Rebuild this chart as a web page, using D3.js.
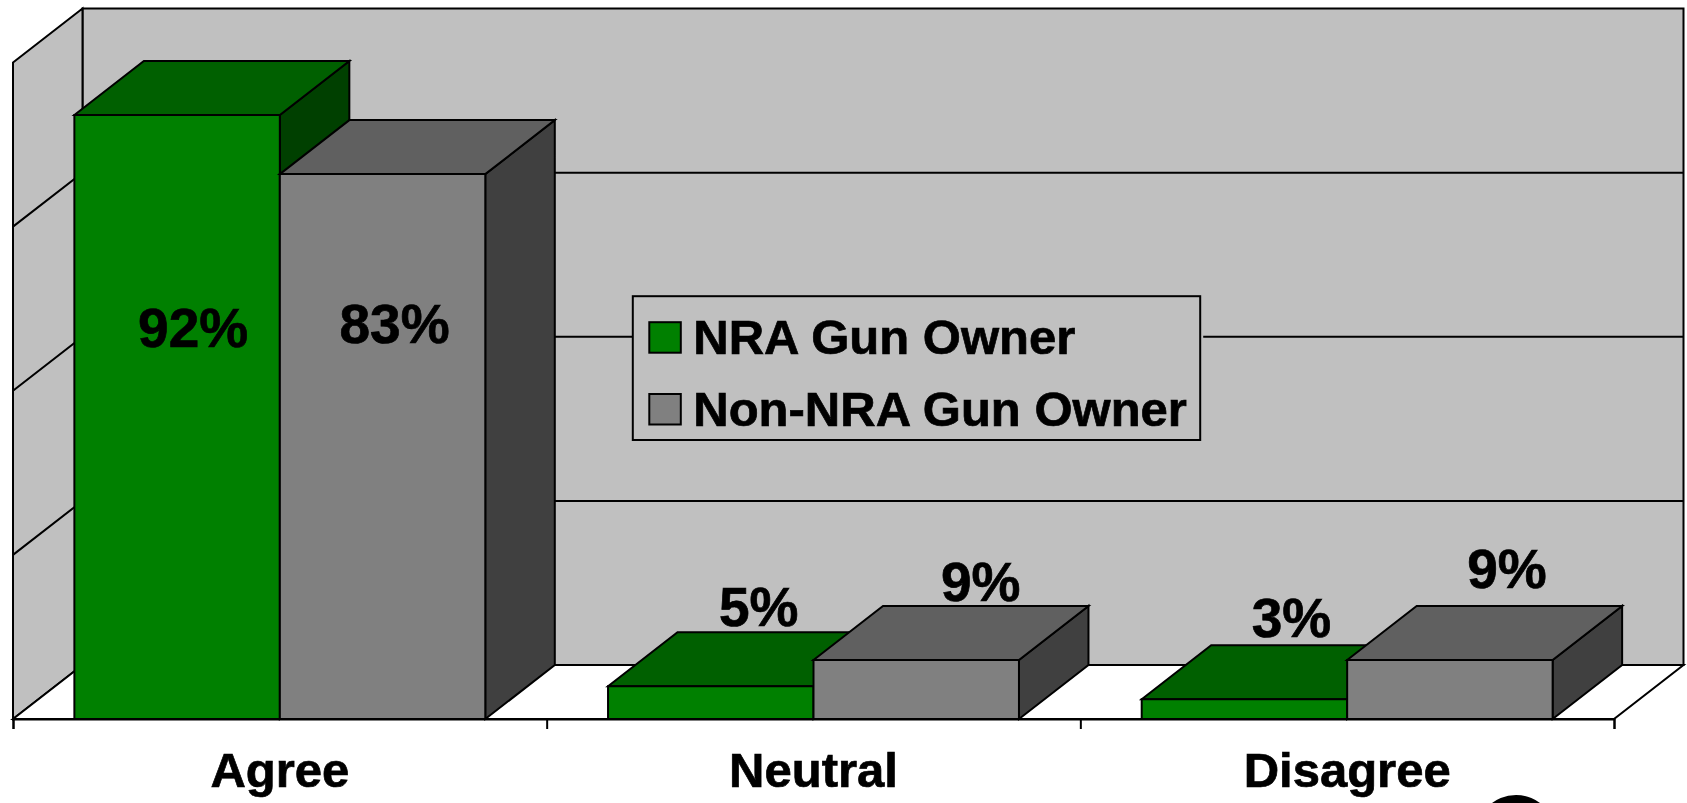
<!DOCTYPE html>
<html>
<head>
<meta charset="utf-8">
<script src="https://cdnjs.cloudflare.com/ajax/libs/d3/7.8.5/d3.min.js"></script>
<style>
  html, body { margin: 0; padding: 0; background: #fff; overflow: hidden; }
  svg { display: block; }
  text { font-family: "Liberation Sans", Arial, sans-serif; font-weight: bold; fill: #000; stroke: #000; stroke-width: 0.7px; }
</style>
</head>
<body>
<svg width="1687" height="803"></svg>
<script>
// chart data
var categories = ['Agree', 'Neutral', 'Disagree'];
var seriesNames = ['NRA Gun Owner', 'Non-NRA Gun Owner'];
var nraValues = [92, 5, 3];
var nonNraValues = [83, 9, 9];
var gridValues = [0, 25, 50, 75, 100];

// colours per series: front, top, side
var seriesColours = [
  { front: '#008000', top: '#006000', side: '#004000' },
  { front: '#808080', top: '#606060', side: '#404040' }
];
var seriesValues = [nraValues, nonNraValues];

// hand placed data labels in the original: shift from the bar centre, and baseline
var labelShiftX = [[16, 12], [48, 64.5], [47, 57]];
var labelBaseline = [[347, 343], [626, 601], [637, 588]];

var svg = d3.select('svg');

// frame of the 3d box
var left = 13, right = 1614, floorY = 719, topY = 62.5;
var depthX = 69.5, depthY = 54;

var x = d3.scaleBand().domain(categories).range([left, right]).paddingInner(0).paddingOuter(0);
var barWidth = x.bandwidth() * 0.385;
var gap = (x.bandwidth() - barWidth * 2) / 2;
var y = d3.scaleLinear().domain([0, 100]).range([floorY, topY]);

function poly(points, fill) {
  return svg.append('polygon')
    .attr('points', points.map(function (p) { return p.join(','); }).join(' '))
    .attr('fill', fill)
    .attr('stroke', '#000')
    .attr('stroke-width', 2)
    .attr('stroke-linejoin', 'miter');
}

// back wall
poly([[left + depthX, y(100) - depthY], [right + depthX, y(100) - depthY],
      [right + depthX, y(0) - depthY], [left + depthX, y(0) - depthY]], '#c0c0c0');
// side wall
poly([[left, y(100)], [left + depthX, y(100) - depthY],
      [left + depthX, y(0) - depthY], [left, y(0)]], '#c0c0c0');
// floor
poly([[left, y(0)], [left + depthX, y(0) - depthY],
      [right + depthX, y(0) - depthY], [right, y(0)]], '#ffffff');

// gridlines on both walls
gridValues.slice(1, -1).forEach(function (v) {
  svg.append('path')
    .attr('d', d3.line()([[left, y(v)], [left + depthX, y(v) - depthY], [right + depthX, y(v) - depthY]]))
    .attr('fill', 'none')
    .attr('stroke', '#000')
    .attr('stroke-width', 2);
});

// bars, back to front within each category
categories.forEach(function (cat, c) {
  seriesValues.forEach(function (values, s) {
    var x0 = x(cat) + gap + s * barWidth;
    var x1 = x0 + barWidth;
    var yTop = y(values[c]);
    var col = seriesColours[s];
    poly([[x1, yTop], [x1 + depthX, yTop - depthY], [x1 + depthX, floorY - depthY], [x1, floorY]], col.side);
    poly([[x0, yTop], [x0 + depthX, yTop - depthY], [x1 + depthX, yTop - depthY], [x1, yTop]], col.top);
    poly([[x0, yTop], [x1, yTop], [x1, floorY], [x0, floorY]], col.front);
  });
});

// data labels
categories.forEach(function (cat, c) {
  seriesValues.forEach(function (values, s) {
    var cx = x(cat) + gap + (s + 0.5) * barWidth;
    svg.append('text')
      .attr('x', cx + labelShiftX[c][s])
      .attr('y', labelBaseline[c][s])
      .attr('text-anchor', 'middle')
      .style('font-size', '55px')
      .text(values[c] + '%');
  });
});

// category axis: ticks at the band edges, labels in the band middle
var tickScale = d3.scaleLinear().domain([0, categories.length]).range([left, right]);
svg.append('g')
  .attr('transform', 'translate(0,' + floorY + ')')
  .call(d3.axisBottom(tickScale).tickValues(d3.range(categories.length + 1)).tickSize(10).tickFormat(''))
  .call(function (g) {
    g.selectAll('line, path').attr('stroke', '#000').attr('stroke-width', 2);
  });

svg.append('g')
  .attr('transform', 'translate(0,' + floorY + ')')
  .call(d3.axisBottom(x).tickSize(0).tickPadding(26))
  .call(function (g) {
    g.select('.domain').remove();
    g.selectAll('text')
      .attr('fill', '#000')
      .attr('dy', 0)
      .attr('y', 68)
      .style('font-family', '"Liberation Sans", Arial, sans-serif')
      .style('font-weight', 'bold')
      .style('font-size', '49px');
  });

// legend
var legendX = 632.8, legendY = 296.2, legendW = 567.4, legendH = 143.8;
svg.append('rect')
  .attr('x', legendX).attr('y', legendY - 2).attr('width', legendW + 3).attr('height', legendH + 4)
  .attr('fill', '#c0c0c0');
svg.append('rect')
  .attr('x', legendX).attr('y', legendY).attr('width', legendW).attr('height', legendH)
  .attr('fill', '#c0c0c0')
  .attr('stroke', '#000')
  .attr('stroke-width', 2);
seriesNames.forEach(function (name, i) {
  var rowY = legendY + 26 + i * 71.8;
  svg.append('rect')
    .attr('x', legendX + 16.5).attr('y', rowY).attr('width', 31.5).attr('height', 30.5)
    .attr('fill', seriesColours[i].front)
    .attr('stroke', '#000')
    .attr('stroke-width', 2);
  svg.append('text')
    .attr('x', legendX + 60.5).attr('y', rowY + 32)
    .style('font-size', '49px')
    .text(name);
});

// dark shape cut off by the bottom edge of the picture
svg.append('circle')
  .attr('cx', 1516).attr('cy', 835).attr('r', 40)
  .attr('fill', '#000');
</script>
</body>
</html>
